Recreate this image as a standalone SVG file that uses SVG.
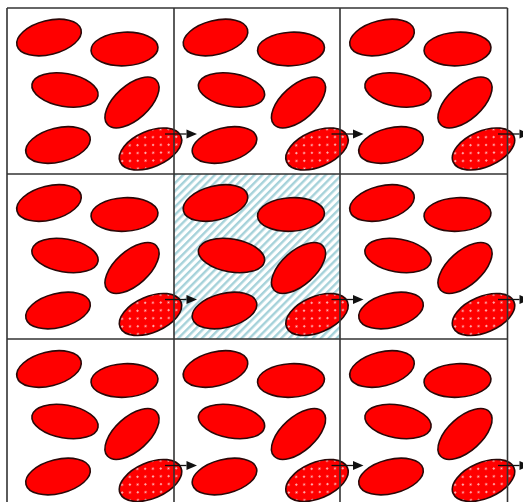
<svg xmlns="http://www.w3.org/2000/svg" xmlns:xlink="http://www.w3.org/1999/xlink" width="523" height="502" viewBox="0 0 523 502">
  <style>
    .e { fill: #ff0000; stroke: #2a0808; stroke-width: 1.6; }
    .d { fill: url(#dots); stroke: #2a0808; stroke-width: 1.6; }
    .grid line { stroke: #333333; stroke-width: 1.6; }
    .arrow { stroke: #111; stroke-width: 1.3; fill: none; marker-end: url(#head); }
  </style>
  <defs>
    <pattern id="hatch" width="5.6" height="5.6" patternUnits="userSpaceOnUse" patternTransform="rotate(45)">
      <rect x="0" y="0" width="5.6" height="5.6" fill="#ffffff"/>
      <rect x="0" y="0" width="2.4" height="5.6" fill="#a6d2da"/>
    </pattern>
    <pattern id="dots" width="11" height="11" patternUnits="userSpaceOnUse" patternTransform="rotate(-23)">
      <rect x="0" y="0" width="11" height="11" fill="#ff0000"/>
      <circle cx="2.5" cy="2.5" r="1.1" fill="#ffd0d0"/>
      <circle cx="8" cy="8" r="1.1" fill="#ffd0d0"/>
    </pattern>
    <marker id="head" markerUnits="userSpaceOnUse" markerWidth="11" markerHeight="10" refX="0" refY="4.5" orient="auto" overflow="visible">
      <path d="M0,0 L10.5,4.5 L0,9 Z" fill="#111"/>
    </marker>
    <g id="cellShapes">
      <ellipse class="e" cx="49" cy="37.5" rx="33" ry="17" transform="rotate(-14 49 37.5)"/>
      <ellipse class="e" cx="124.5" cy="49" rx="33.5" ry="16.8" transform="rotate(-3 124.5 49)"/>
      <ellipse class="e" cx="65" cy="90" rx="33.5" ry="16.5" transform="rotate(10 65 90)"/>
      <ellipse class="e" cx="132" cy="102.5" rx="33" ry="17" transform="rotate(-42 132 102.5)"/>
      <ellipse class="e" cx="58" cy="145" rx="33" ry="17" transform="rotate(-14 58 145)"/>
      <ellipse class="d" cx="150.5" cy="149" rx="33" ry="18" transform="rotate(-23 150.5 149)"/>
    </g>
  </defs>

  <rect x="0" y="0" width="523" height="502" fill="#ffffff"/>
  <rect id="center-hatch" x="174" y="174" width="166" height="165" fill="url(#hatch)"/>

  <g id="cell-r1c1"><use xlink:href="#cellShapes" transform="translate(0 0)"/></g>
  <g id="cell-r1c2"><use xlink:href="#cellShapes" transform="translate(166.5 0)"/></g>
  <g id="cell-r1c3"><use xlink:href="#cellShapes" transform="translate(333 0)"/></g>
  <g id="cell-r2c1"><use xlink:href="#cellShapes" transform="translate(0 165.5)"/></g>
  <g id="cell-r2c2"><use xlink:href="#cellShapes" transform="translate(166.5 165.5)"/></g>
  <g id="cell-r2c3"><use xlink:href="#cellShapes" transform="translate(333 165.5)"/></g>
  <g id="cell-r3c1"><use xlink:href="#cellShapes" transform="translate(0 331.5)"/></g>
  <g id="cell-r3c2"><use xlink:href="#cellShapes" transform="translate(166.5 331.5)"/></g>
  <g id="cell-r3c3"><use xlink:href="#cellShapes" transform="translate(333 331.5)"/></g>

  <g id="grid" class="grid">
    <line x1="7" y1="8" x2="7" y2="502"/>
    <line x1="174" y1="8" x2="174" y2="502"/>
    <line x1="340" y1="8" x2="340" y2="502"/>
    <line x1="507.5" y1="8" x2="507.5" y2="502"/>
    <line x1="7" y1="8" x2="507.5" y2="8"/>
    <line x1="7" y1="174" x2="507.5" y2="174"/>
    <line x1="7" y1="339" x2="507.5" y2="339"/>
  </g>

  <g id="connectors">
    <line class="arrow" x1="165" y1="134" x2="186.5" y2="134"/>
    <line class="arrow" x1="331.5" y1="134" x2="353" y2="134"/>
    <line class="arrow" x1="498" y1="134" x2="519.5" y2="134"/>
    <line class="arrow" x1="165" y1="299.5" x2="186.5" y2="299.5"/>
    <line class="arrow" x1="331.5" y1="299.5" x2="353" y2="299.5"/>
    <line class="arrow" x1="498" y1="299.5" x2="519.5" y2="299.5"/>
    <line class="arrow" x1="165" y1="465.5" x2="186.5" y2="465.5"/>
    <line class="arrow" x1="331.5" y1="465.5" x2="353" y2="465.5"/>
    <line class="arrow" x1="498" y1="465.5" x2="519.5" y2="465.5"/>
  </g>
</svg>
